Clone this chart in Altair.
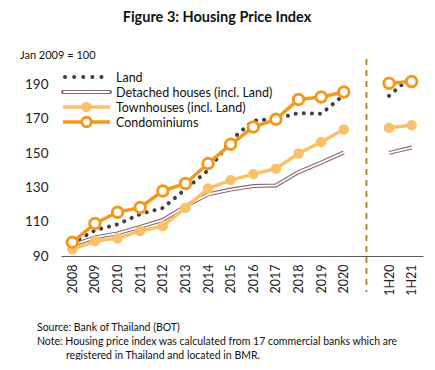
import altair as alt
import pandas as pd

FONT = "Lato"

categories = ["2008", "2009", "2010", "2011", "2012", "2013", "2014", "2015",
              "2016", "2017", "2018", "2019", "2020", " ", "1H20", "1H21"]
years = ["2008", "2009", "2010", "2011", "2012", "2013", "2014", "2015",
         "2016", "2017", "2018", "2019", "2020"]
halves = ["1H20", "1H21"]

land_y = [97.5, 105, 108.5, 114.5, 118, 129, 140, 157.5, 169, 170, 173.5, 173, 184]
land_h = [183.5, 195]
detached_y = [96.4, 100.9, 103.2, 107, 111, 119, 126, 128.8, 130.8, 131.2, 139, 144.5, 150.5]
detached_h = [150.2, 153.3]
town_y = [93.9, 98.7, 100.3, 104.6, 107.5, 118.1, 129.4, 134.3, 137.8, 141, 149.8, 156.6, 163.8]
town_h = [164.9, 166.3]
condo_y = [98, 109, 115.6, 118.3, 128, 132.3, 144, 155.2, 165.3, 169.8, 181.4, 182.8, 185.7]
condo_h = [190.8, 191.8]

series_names = ["Land", "Detached houses (incl. Land)", "Townhouses (incl. Land)", "Condominiums"]


def frame(name, yv, hv):
    rows = [{"cat": c, "v": v, "seg": "annual"} for c, v in zip(years, yv)]
    rows += [{"cat": c, "v": v, "seg": "half"} for c, v in zip(halves, hv)]
    df = pd.DataFrame(rows)
    df["series"] = name
    df["ord"] = [categories.index(c) for c in df["cat"]]
    return df


land = frame(series_names[0], land_y, land_h)
detached = frame(series_names[1], detached_y, detached_h)
town = frame(series_names[2], town_y, town_h)
condo = frame(series_names[3], condo_y, condo_h)

C_LAND = "#404040"
C_DET = "#8A6670"
C_TOWN = "#F9C26A"
C_CONDO = "#F39A1E"
C_DIV = "#B88A2E"

xscale = alt.Scale(domain=categories, type="point", padding=0.5)
yscale = alt.Scale(domain=[90, 205], nice=False, zero=False)

X = alt.X("cat:N", scale=xscale, sort=categories,
          axis=alt.Axis(title=None, labelAngle=-90, labelFontSize=12.5, labelFont=FONT,
                        labelColor="#222222", ticks=False, domainColor="#595959",
                        domainWidth=1, labelPadding=8, labelBaseline="middle"))
Y = alt.Y("v:Q", scale=yscale,
          axis=alt.Axis(title=None, values=[90, 110, 130, 150, 170, 190], grid=False,
                        ticks=False, domain=False, labelFontSize=13.5, labelFont=FONT,
                        labelColor="#222222", labelPadding=13))


def lines(df, **kw):
    return alt.Chart(df).mark_line(**kw).encode(
        x=X, y=Y, detail="seg:N", order="ord:Q")


det_outer = lines(detached, color=C_DET, strokeWidth=4)
det_inner = lines(detached, color="white", strokeWidth=1.8)
town_line = lines(town, color=C_TOWN, strokeWidth=3.5)
town_pts = alt.Chart(town).mark_point(filled=True, color=C_TOWN, size=110, opacity=1).encode(x=X, y=Y)
land_line = lines(land, color=C_LAND, strokeWidth=4, strokeDash=[0.1, 8], strokeCap="round")
condo_line = lines(condo, color=C_CONDO, strokeWidth=3.5)
condo_pts = alt.Chart(condo).mark_point(filled=True, fill="white", stroke=C_CONDO,
                                        strokeWidth=3, size=110, opacity=1).encode(x=X, y=Y)

divider = alt.Chart(pd.DataFrame({"cat": [" "]})).mark_rule(
    color=C_DIV, strokeWidth=2, strokeDash=[6, 5]).encode(
    x=alt.X("cat:N", scale=xscale, sort=categories), y=alt.value(0), y2=alt.value(233))

one = pd.DataFrame({"a": [0]})


def txt(text, x, y, size=12, weight="normal", align="left"):
    return alt.Chart(one).mark_text(text=text, font=FONT, fontSize=size, fontWeight=weight,
                                    align=align, baseline="alphabetic", color="#111111").encode(
        x=alt.value(x), y=alt.value(y))


# legend
LX0, LX1, LXT = 2, 49, 55
rows_y = [18, 33, 48, 63]
leg = [
    alt.Chart(one).mark_rule(color=C_LAND, strokeWidth=4, strokeDash=[0.1, 9], strokeCap="round").encode(
        x=alt.value(LX0 + 2), x2=alt.value(LX1), y=alt.value(rows_y[0])),
    alt.Chart(one).mark_rule(color=C_DET, strokeWidth=4, strokeCap="round").encode(
        x=alt.value(LX0), x2=alt.value(LX1), y=alt.value(rows_y[1])),
    alt.Chart(one).mark_rule(color="white", strokeWidth=1.8, strokeCap="round").encode(
        x=alt.value(LX0 + 1), x2=alt.value(LX1 - 1), y=alt.value(rows_y[1])),
    alt.Chart(one).mark_rule(color=C_TOWN, strokeWidth=3.5).encode(
        x=alt.value(LX0), x2=alt.value(LX1), y=alt.value(rows_y[2])),
    alt.Chart(one).mark_point(filled=True, color=C_TOWN, size=110, opacity=1).encode(
        x=alt.value((LX0 + LX1) / 2), y=alt.value(rows_y[2])),
    alt.Chart(one).mark_rule(color=C_CONDO, strokeWidth=3.5).encode(
        x=alt.value(LX0), x2=alt.value(LX1), y=alt.value(rows_y[3])),
    alt.Chart(one).mark_point(filled=True, fill="white", stroke=C_CONDO, strokeWidth=3, size=90, opacity=1).encode(
        x=alt.value((LX0 + LX1) / 2), y=alt.value(rows_y[3])),
]
leg += [txt(n, LXT, ry + 4.5, size=12.5) for n, ry in zip(series_names, rows_y)]

notes = [
    txt("Figure 3: Housing Price Index", 156, -37, size=14.5, weight="bold", align="center"),
    txt("Jan 2009 = 100", -41, 0, size=11),
    txt("Source: Bank of Thailand (BOT)", -24, 272, size=10.5),
    txt("Note: Housing price index was calculated from 17 commercial banks which are", -24, 286, size=10.5),
    txt("registered in Thailand and located in BMR.", 5, 300, size=10.5),
]

chart = alt.layer(
    divider, det_outer, det_inner, town_line, town_pts, land_line, condo_line, condo_pts,
    *leg, *notes
).properties(
    width=362, height=197,
    autosize=alt.AutoSizeParams(type="none"),
    padding={"left": 53, "top": 51, "right": 4, "bottom": 104},
).configure_view(stroke=None)

chart.save("out.html", embed_options={"renderer": "svg", "actions": False})
